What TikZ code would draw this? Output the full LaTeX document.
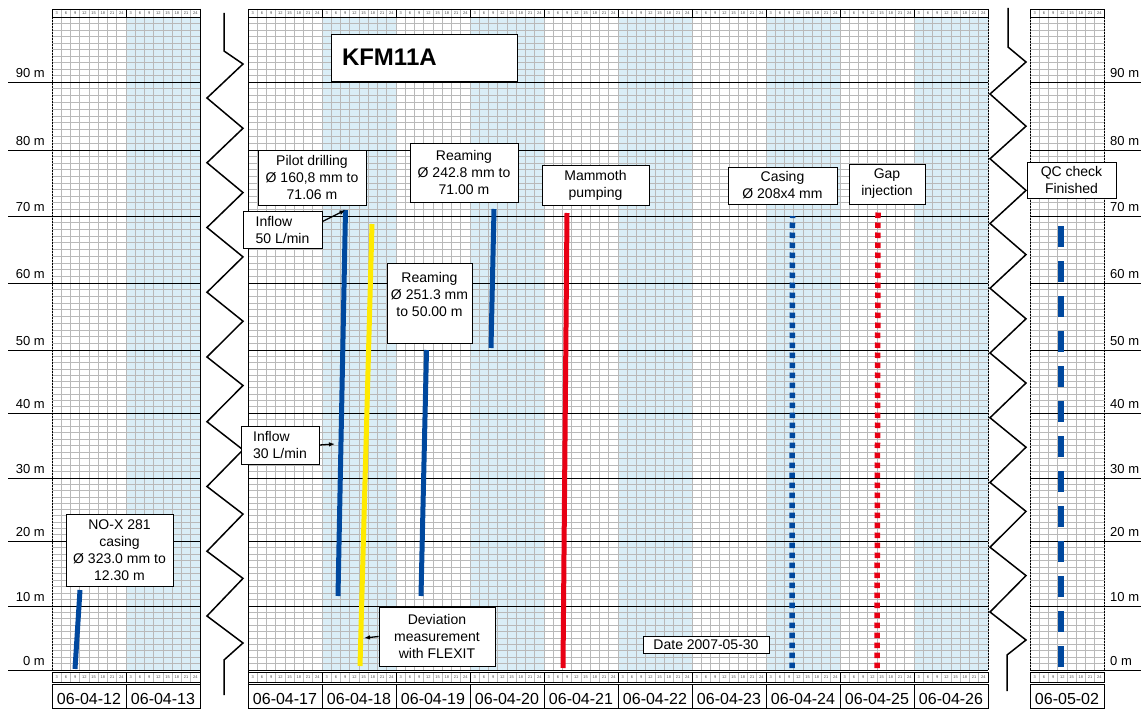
\documentclass[tikz,border=0pt]{standalone}
\usepackage{fontspec}
\setmainfont{Liberation Sans}
\usetikzlibrary{arrows.meta}

\definecolor{gridgray}{RGB}{185,185,185}
\definecolor{dayblue}{RGB}{218,238,247}
\definecolor{barblue}{RGB}{0,72,158}
\definecolor{barred}{RGB}{232,0,20}
\definecolor{baryellow}{RGB}{255,234,0}

\begin{document}
\begin{tikzpicture}[x=1pt, y=-1pt,
    note/.style={rectangle, draw, fill=white, line width=0.9pt, align=center, inner sep=2pt, font=\fontsize{14}{17}\selectfont},
    bar/.style={line width=5pt},
    arrow/.style={-{Latex[length=6pt,width=4.5pt]}, line width=1.3pt},
    gridline/.style={gridgray, line width=0.8pt},
    hourlbl/.style={font=\fontsize{4}{4}\selectfont, inner sep=0pt, text=black!70},
    datelbl/.style={font=\fontsize{16}{16}\selectfont, inner sep=0pt, anchor=base},
    meterlbl/.style={font=\fontsize{13}{13}\selectfont, inner sep=0pt}
]
\useasboundingbox (0,0) rectangle (1141,709);
\fill[white] (0,0) rectangle (1141,709);

% Shaded days
\foreach \xa in {126,322,470,618,766,914}
  \fill[dayblue] (\xa,17) rectangle ++(74,653);

% Grid - one row per metre, one column per 3 hours
\foreach \ya/\yb in {17/82,82/150,150/216,216/283,283/350,350/413,413/478,478/541,541/606,606/670} {
  \foreach \j in {1,...,9} {
    \pgfmathsetmacro\yy{\ya+(\yb-\ya)*\j/10}
    \draw[gridline] (52,\yy) -- (200,\yy) (248,\yy) -- (988,\yy) (1030,\yy) -- (1104,\yy);
  }
}
\foreach \i in {0,...,16}
  \draw[gridline] ({52+9.25*\i},17) -- ++(0,653);
\foreach \i in {0,...,80}
  \draw[gridline] ({248+9.25*\i},17) -- ++(0,653);
\foreach \i in {0,...,8}
  \draw[gridline] ({1030+9.25*\i},17) -- ++(0,653);

% Depth lines and labels
\draw[line width=0.9pt] (52,17) -- (200,17) (248,17) -- (988,17) (1030,17) -- (1104,17);
\foreach \ym/\m in {82/90,150/80,216/70,283/60,350/50,413/40,478/30,541/20,606/10,670/0} {
  \draw[line width=0.9pt] (8,\ym) -- (200,\ym) (248,\ym) -- (988,\ym) (1030,\ym) -- (1141,\ym);
  \node[meterlbl, anchor=base east] (ml\m) at (45,\ym-4.5) {\m\ m};
  \node[meterlbl, anchor=base west] (mr\m) at (1110,\ym-4.5) {\m\ m};
}

% Panel borders
\foreach \xb in {52,988,1030,1104}
  \draw[line width=0.8pt, dash pattern=on 2pt off 1pt] (\xb,17) -- (\xb,670);
\draw[line width=1pt] (200,9) -- (200,709) (248,9) -- (248,709);

% Hour rows and dates
\foreach \xd/\dd in {52/06-04-12,126/06-04-13,248/06-04-17,322/06-04-18,396/06-04-19,470/06-04-20,544/06-04-21,618/06-04-22,692/06-04-23,766/06-04-24,840/06-04-25,914/06-04-26,1030/06-05-02} {
  \foreach \h [count=\c] in {3,6,...,24} {
    \draw[gridline] ({\xd+9.25*\c},9) -- ++(0,8) ({\xd+9.25*\c},672.5) -- ++(0,9.5);
    \node[hourlbl] (ht-\xd-\c) at ({\xd+9.25*(\c-0.5)},13) {\h};
    \node[hourlbl] (hb-\xd-\c) at ({\xd+9.25*(\c-0.5)},677.3) {\h};
  }
  \draw[line width=0.9pt] (\xd,9) rectangle ++(74,8);
  \draw[line width=0.9pt] (\xd,672.5) rectangle ++(74,9.5);
  \draw[line width=0.9pt] (\xd,684) rectangle ++(74,24.5);
  \node[datelbl] (d-\xd) at (\xd+37,704) {\dd};
}

% Breaks in the time axis
\draw[line width=1.5pt] (224,13) -- (224,51)
  \foreach \k in {0,...,8} { -- (243,{64+64.3*\k}) -- (207,{98+64.75*\k}) }
  -- (243,643) -- (224,660) -- (224,695);
\draw[line width=1.5pt] (1008,8) -- (1008,47)
  \foreach \k in {0,...,8} { -- (1026,{62+64.2*\k}) -- (990,{94+64.75*\k}) }
  -- (1026,640) -- (1007,655) -- (1007,691);

% Activities
\coordinate (noxB) at (75,669);     \coordinate (noxT) at (80,590);
\coordinate (pilotB) at (338,596);  \coordinate (pilotT) at (345.5,210);
\coordinate (flexB) at (360,666);   \coordinate (flexT) at (372,224);
\coordinate (ream1B) at (421,596);  \coordinate (ream1T) at (426.5,350);
\coordinate (ream2B) at (491,348);  \coordinate (ream2T) at (494,209);
\coordinate (mamB) at (563,668);    \coordinate (mamT) at (567,213);
\coordinate (casB) at (792,668);    \coordinate (casT) at (792.5,216);
\coordinate (gapB) at (877,668);    \coordinate (gapT) at (878,212);
\coordinate (qcB) at (1061,667);    \coordinate (qcT) at (1061,218);

\draw[bar, barblue] (noxB) -- (noxT);
\draw[bar, barblue] (pilotB) -- (pilotT);
\draw[bar, baryellow] (flexB) -- (flexT);
\draw[bar, barblue] (ream1B) -- (ream1T);
\draw[bar, barblue] (ream2B) -- (ream2T);
\draw[bar, barred] (mamB) -- (mamT);
\draw[barblue, line width=5.5pt, dash pattern=on 5.5pt off 4.5pt] (casB) -- (casT);
\draw[barred, line width=5.5pt, dash pattern=on 5.5pt off 4.5pt] (gapB) -- (gapT);
\draw[barblue, line width=6pt, dash pattern=on 21pt off 14pt] (qcB) -- (qcT);

% Notes
\node[note, text width=164, align=left, inner xsep=11pt, minimum height=47, font=\fontsize{24}{24}\selectfont\bfseries] (title) at (424,57.5) {KFM11A};
\node[note, minimum width=107, minimum height=72] (nox) at (119.5,550) {NO-X 281\\casing\\Ø 323.0 mm to\\12.30 m};
\node[note, minimum width=108, minimum height=55] (pilot) at (312,177.5) {Pilot drilling\\Ø 160,8 mm to\\71.06 m};
\node[note, align=left, minimum width=79, minimum height=37] (inflowA) at (282.5,229.5) {Inflow\\50 L/min};
\node[note, align=left, minimum width=78, minimum height=38] (inflowB) at (280,445) {Inflow\\30 L/min};
\node[note, minimum width=108, minimum height=59] (reamA) at (464,172.5) {Reaming\\Ø 242.8 mm to\\71.00 m};
\node[note, minimum width=85, minimum height=80] (reamB) at (429.5,303) {Reaming\\Ø 251.3 mm\\to 50.00 m\\ \mbox{}};
\node[note, minimum width=116, minimum height=59] (flexit) at (437,636.5) {Deviation\\measurement\\with FLEXIT};
\node[note, minimum width=107, minimum height=40] (mammoth) at (595.5,185) {Mammoth\\pumping};
\node[note, minimum width=109, minimum height=37] (casing) at (782.5,185.5) {Casing\\Ø 208x4 mm};
\node[note, minimum width=76, minimum height=40] (gap) at (887,184) {Gap\\injection};
\node[note, minimum width=89, minimum height=36] (qc) at (1071.5,180) {QC check\\Finished};
\node[note, inner ysep=0.5pt, minimum width=126, minimum height=17] (date) at (706,644.5) {Date 2007-05-30};

% Arrows
\coordinate (inflowPtB) at (335,444);
\coordinate (flexPt) at (364,638);
\draw[arrow] ([yshift=8pt]inflowA.east) -- (pilotT);
\draw[arrow] (inflowB.east) -- (inflowPtB);
\draw[arrow] (flexit.west) -- (flexPt);

\end{tikzpicture}
\end{document}
